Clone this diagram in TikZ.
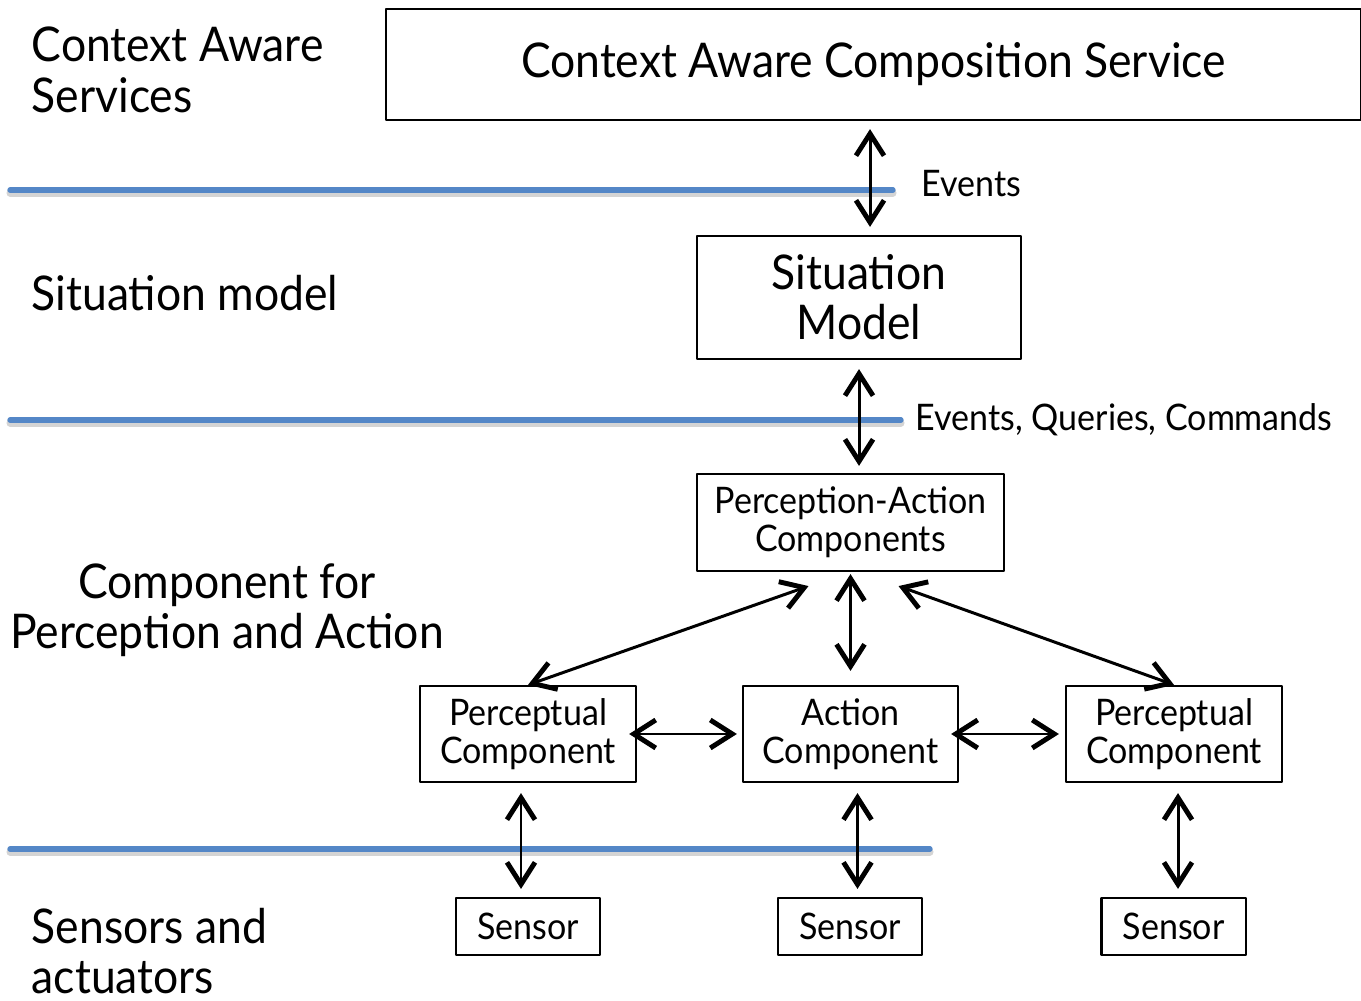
\documentclass[tikz,border=0pt]{standalone}
\usepackage{fontspec}
\setmainfont{Lato}[FakeStretch=0.93]
\usepackage{tikz}
\usetikzlibrary{calc}
\usetikzlibrary{arrows.meta}
\definecolor{layerblue}{rgb}{0.33,0.53,0.78}
\definecolor{shadowgray}{rgb}{0.72,0.72,0.72}
\newcommand{\lbltxt}{\fontsize{13.6}{14.3}\selectfont}
\newcommand{\boxtxt}{\fontsize{10.4}{10.8}\selectfont}
\tikzset{
  box/.style={draw, line width=0.6pt, inner sep=0pt, align=center},
  biarrow/.style={line width=0.85pt, {Straight Barb[length=2.2mm,width=2.8mm,line width=1.4pt]}-{Straight Barb[length=2.2mm,width=2.8mm,line width=1.4pt]}},
  layer/.style={line width=1.5pt, color=layerblue},
  layershadow/.style={line width=2pt, color=shadowgray, opacity=0.6},
  lbl/.style={inner sep=0pt, align=left, font=\lbltxt}
}

\begin{document}
\begin{tikzpicture}[line cap=round,line join=round,x=0.01cm,y=-0.01cm]

            \useasboundingbox (0,0) rectangle (1361,1001);
            \draw [layershadow] (10,193) -- (893,193);
            \draw [layershadow] (10,423) -- (901,423);
            \draw [layershadow] (10,852) -- (930,852);
            \draw [layer] (10,190) -- (893,190);
            \draw [layer] (10,420) -- (901,420);
            \draw [layer] (10,849) -- (930,849);

            \node [lbl, anchor=west] (lblcas) at (31,70) {Context Aware\\Services};
            \node [lbl, anchor=west] (lblsit) at (31,293) {Situation model};
            \node [lbl, align=center] (lblcpa) at (227,610) {Component for\\Perception and Action};
            \node [lbl, anchor=west] (lblsens) at (31,951) {Sensors and\\actuators};

            \node [box, minimum width=9.75cm, minimum height=1.11cm, font=\lbltxt] (cacs) at (873.5,64.5) {Context Aware Composition Service};
            \node [box, minimum width=3.24cm, minimum height=1.23cm, font=\lbltxt] (sitmodel) at (859,297.5) {Situation\\Model};
            \node [box, minimum width=3.07cm, minimum height=0.97cm, font=\boxtxt] (pac) at (850.5,522.5) {Perception-Action\\Components};
            \node [box, minimum width=2.16cm, minimum height=0.96cm, font=\boxtxt] (percL) at (528,734) {Perceptual\\Component};
            \node [box, minimum width=2.15cm, minimum height=0.96cm, font=\boxtxt] (action) at (850.5,734) {Action\\Component};
            \node [box, minimum width=2.16cm, minimum height=0.96cm, font=\boxtxt] (percR) at (1174,734) {Perceptual\\Component};
            \node [box, minimum width=1.44cm, minimum height=0.57cm, font=\boxtxt] (sensL) at (528,926.5) {Sensor};
            \node [box, minimum width=1.44cm, minimum height=0.57cm, font=\boxtxt] (sensM) at (850,926.5) {Sensor};
            \node [box, minimum width=1.44cm, minimum height=0.57cm, font=\boxtxt] (sensR) at (1173.5,926.5) {Sensor};

            \draw [biarrow, shorten <=0.08cm, shorten >=0.08cm] ([xshift=0.11cm]sitmodel.north) -- ([xshift=0.11cm]sitmodel.north |- cacs.south);
            \node [font=\boxtxt, anchor=west, inner sep=0pt] (evt) at (921,184) {Events};
            \draw [biarrow, shorten <=0.09cm, shorten >=0.07cm] (sitmodel.south) -- (sitmodel.south |- pac.north);
            \node [font=\boxtxt, anchor=west, inner sep=0pt] (eqc) at (915,420) {Events, Queries, Commands};

            \draw [biarrow] (percL.north) -- ($(pac.south)+(-42,14)$);
            \draw [biarrow, shorten <=0.02cm, shorten >=0.14cm] (pac.south) -- (action.north);
            \draw [biarrow] (percR.north) -- ($(pac.south)+(48,14)$);
            \draw [biarrow, shorten <=-0.08cm, shorten >=0.05cm] (percL.east) -- (action.west);
            \draw [biarrow, shorten <=-0.08cm, shorten >=0.06cm] (action.east) -- (percR.west);

            \draw [biarrow, shorten <=0.1cm, shorten >=0.08cm] ([xshift=-0.07cm]percL.south) -- ([xshift=-0.07cm]percL.south |- sensL.north);
            \draw [biarrow, shorten <=0.1cm, shorten >=0.08cm] ([xshift=0.07cm]action.south) -- ([xshift=0.07cm]action.south |- sensM.north);
            \draw [biarrow, shorten <=0.1cm, shorten >=0.08cm] ([xshift=0.04cm]percR.south) -- ([xshift=0.04cm]percR.south |- sensR.north);
\end{tikzpicture}
\end{document}
